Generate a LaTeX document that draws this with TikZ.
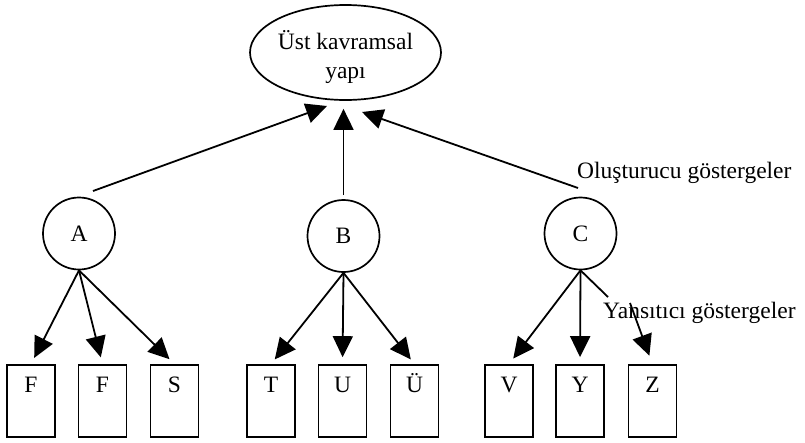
\documentclass[tikz,border=0pt]{standalone}
\usepackage{fontspec}
\setmainfont{Liberation Serif}
\usetikzlibrary{arrows.meta,shapes.geometric,calc}
\begin{document}
\begin{tikzpicture}[x=1pt,y=-1pt,
  every node/.style={font=\fontsize{23.5}{29}\selectfont},
  circ/.style={draw,circle,line width=1.7pt,minimum size=72pt,inner sep=0pt},
  box/.style={draw,rectangle,line width=1.7pt,minimum width=48pt,minimum height=72pt,inner sep=0pt,text height=16pt,text depth=34pt},
  arr/.style={line width=1.8pt,-{Triangle[length=21pt,width=20pt]}},
  ln/.style={line width=1.8pt},
  lbl/.style={anchor=base west,inner sep=0pt}]
\useasboundingbox (0,0) rectangle (805,442);
\node[draw,ellipse,line width=1.7pt,minimum width=191pt,minimum height=95pt,inner sep=0pt] (E) at (345.5,52.5) {};
\node[align=center,inner sep=0pt] (Et) at (345.5,57) {Üst kavramsal\\yapı};
\node[circ] (A) at (79,233.5) {A};
\node[circ] (B) at (343.5,236) {B};
\node[circ] (C) at (580.5,233.5) {C};
\node[box] (b1) at (31,401) {F};
\node[box] (b2) at (102.5,401) {F};
\node[box] (b3) at (174.5,401) {S};
\node[box] (b4) at (271,401) {T};
\node[box] (b5) at (342.5,401) {U};
\node[box] (b6) at (414.5,401) {Ü};
\node[box] (b7) at (509,401) {V};
\node[box] (b8) at (580,401) {Y};
\node[box] (b9) at (652.5,401) {Z};
\node[lbl] (t1) at (577,178) {Oluşturucu göstergeler};
\node[lbl] (t2) at (603,318) {Yansıtıcı göstergeler};
\coordinate (a0) at (93,191);
\coordinate (a1) at (327,106);
\coordinate (c0) at (578,188);
\coordinate (c1) at (362,112);
\coordinate (z0) at (608,297);
\coordinate (z1) at (630,303);
\draw[arr] (a0) -- (a1);
\draw[arr,shorten <=4pt,shorten >=8pt] (B.north) -- (B.north |- E.south);
\draw[arr] (c0) -- (c1);
\draw[arr,shorten >=7pt] (A.south) -- (b1.north);
\draw[arr,shorten >=7pt] (A.south) -- (b2.north);
\draw[arr,shorten >=7pt] (A.south) -- (b3.north);
\draw[arr,shorten >=6pt] (B.south) -- (b4.north);
\draw[arr,shorten >=7pt] (B.south) -- (b5.north);
\draw[arr,shorten >=6pt] (B.south) -- (b6.north);
\draw[arr,shorten >=7pt] (C.south) -- (b7.north);
\draw[arr,shorten >=7pt] (C.south) -- (b8.north);
\draw[ln] (C.south) -- (z0);
\draw[arr,shorten >=9pt] (z1) -- (b9.north);
\end{tikzpicture}
\end{document}
